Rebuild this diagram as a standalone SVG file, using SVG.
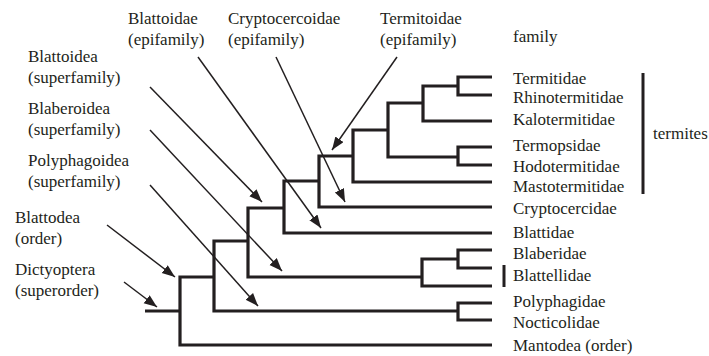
<svg xmlns="http://www.w3.org/2000/svg" width="709" height="356" viewBox="0 0 709 356">
<style>
text{font-family:"Liberation Serif","Times New Roman",serif;font-size:17px;fill:#231f20}
.tree{fill:none;stroke:#231f20;stroke-width:3.2;stroke-linejoin:miter;stroke-linecap:butt}
.arr{fill:none;stroke:#231f20;stroke-width:1.5;marker-end:url(#ah)}
.bar{stroke:#231f20;stroke-width:3}
</style>
<defs>
<marker id="ah" markerUnits="userSpaceOnUse" markerWidth="14" markerHeight="11" refX="13" refY="5" orient="auto">
<path d="M0,0 L13,5 L0,10 z" fill="#231f20"/>
</marker>
</defs>
<g id="tree">
<path class="tree" d="M145,311 H180"/>
<path class="tree" d="M214,277 H180 V345 H492"/>
<path class="tree" d="M248,241 H214 V311 H458"/>
<path class="tree" d="M492,303 H458 V320 H492"/>
<path class="tree" d="M284,208 H248 V277 H422"/>
<path class="tree" d="M458,259 H422 V286 H492"/>
<path class="tree" d="M492,250 H458 V268 H492"/>
<path class="tree" d="M319,181 H284 V233 H492"/>
<path class="tree" d="M353,156 H319 V207 H492"/>
<path class="tree" d="M388,130 H353 V182 H492"/>
<path class="tree" d="M423,103 H388 V157 H458"/>
<path class="tree" d="M492,147 H458 V165 H492"/>
<path class="tree" d="M458,86 H423 V121 H492"/>
<path class="tree" d="M492,77 H458 V95 H492"/>
</g>
<g id="connectors">
<line class="arr" x1="397" y1="57" x2="332" y2="150"/>
<line class="arr" x1="276" y1="57" x2="345" y2="202"/>
<line class="arr" x1="198" y1="57" x2="321" y2="228"/>
<line class="arr" x1="150" y1="87" x2="262" y2="202"/>
<line class="arr" x1="150" y1="130" x2="282" y2="271"/>
<line class="arr" x1="150" y1="185" x2="258" y2="306"/>
<line class="arr" x1="107" y1="225" x2="175" y2="277"/>
<line class="arr" x1="124" y1="282" x2="157" y2="307"/>
</g>
<g id="label-blattoidae"><text x="128" y="24">Blattoidae</text><text x="128" y="45">(epifamily)</text></g>
<g id="label-cryptocercoidae"><text x="228" y="24">Cryptocercoidae</text><text x="228" y="45">(epifamily)</text></g>
<g id="label-termitoidae"><text x="380" y="24">Termitoidae</text><text x="380" y="45">(epifamily)</text></g>
<g id="label-family"><text x="513" y="42">family</text></g>
<g id="label-blattoidea"><text x="28" y="62">Blattoidea</text><text x="28" y="83">(superfamily)</text></g>
<g id="label-blaberoidea"><text x="28" y="114">Blaberoidea</text><text x="28" y="135">(superfamily)</text></g>
<g id="label-polyphagoidea"><text x="28" y="166">Polyphagoidea</text><text x="28" y="187">(superfamily)</text></g>
<g id="label-blattodea"><text x="15" y="223">Blattodea</text><text x="15" y="244">(order)</text></g>
<g id="label-dictyoptera"><text x="15" y="275">Dictyoptera</text><text x="15" y="296">(superorder)</text></g>
<g id="tips">
<text x="513" y="84">Termitidae</text>
<text x="513" y="103">Rhinotermitidae</text>
<text x="513" y="125">Kalotermitidae</text>
<text x="513" y="151">Termopsidae</text>
<text x="513" y="172">Hodotermitidae</text>
<text x="513" y="192">Mastotermitidae</text>
<text x="513" y="214">Cryptocercidae</text>
<text x="513" y="238">Blattidae</text>
<text x="513" y="259">Blaberidae</text>
<text x="513" y="281">Blattellidae</text>
<text x="513" y="307">Polyphagidae</text>
<text x="513" y="328">Nocticolidae</text>
<text x="513" y="351">Mantodea (order)</text>
</g>
<g id="termites">
<line class="bar" x1="643" y1="73" x2="643" y2="194"/>
<text x="653" y="139">termites</text>
</g>
<g id="blattellidae-bar">
<line class="bar" x1="504" y1="265" x2="504" y2="287"/>
</g>
</svg>
